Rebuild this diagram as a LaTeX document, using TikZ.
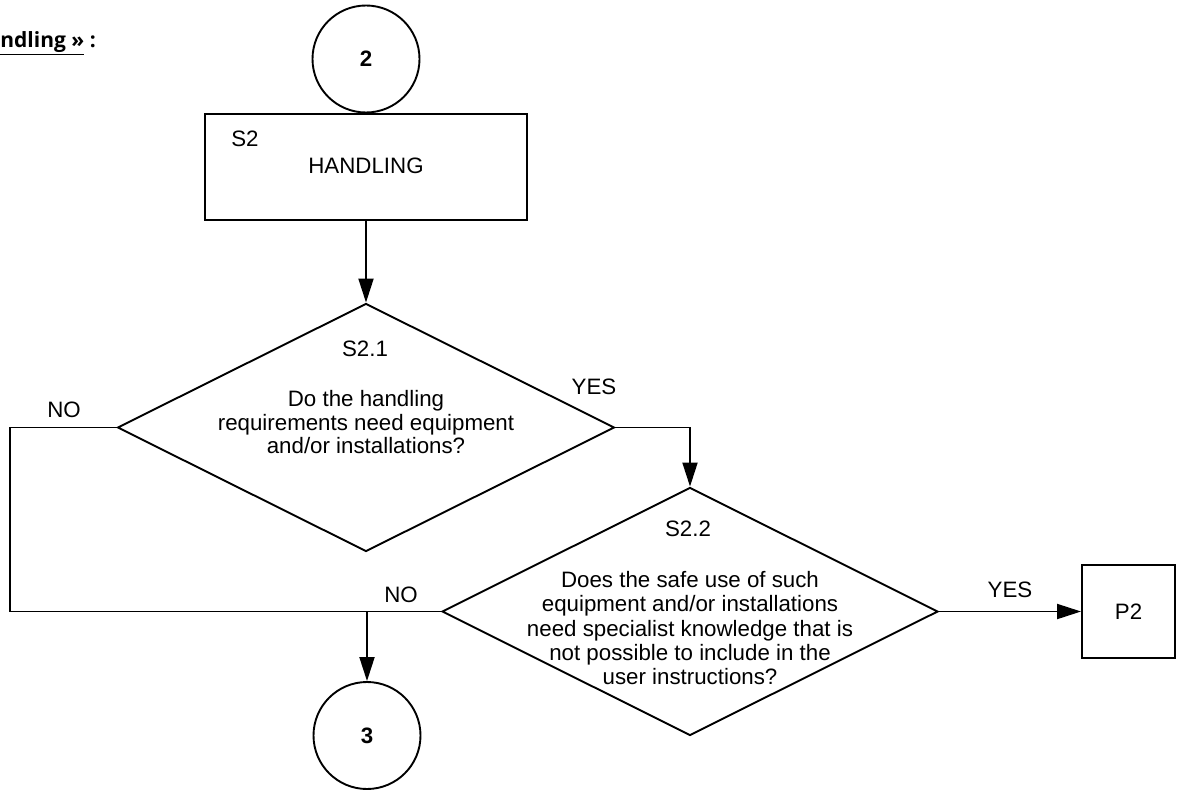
\documentclass[tikz,border=0pt]{standalone}
\usepackage{fontspec}
\setmainfont{Liberation Sans}
\newfontfamily\hdrfont{Open Sans}
\usetikzlibrary{shapes.geometric, arrows.meta, positioning, calc}

\begin{document}
\begin{tikzpicture}[
  x=1pt, y=-1pt,
  every node/.style={font=\fontsize{22.3}{23.5}\selectfont, inner sep=0pt},
  dec/.style={draw, shape=diamond, line width=1.9pt, minimum width=497pt, minimum height=248pt},
  conn/.style={draw, circle, line width=1.9pt, minimum size=107pt, font=\fontsize{22.3}{23.5}\selectfont\bfseries},
  pbox/.style={draw, line width=1.9pt},
  qtext/.style={align=center},
  wire/.style={line width=1.9pt},
  arr/.style={wire, -{Triangle[length=24pt, width=15pt]}}
]
  \useasboundingbox (0,0) rectangle (1182,789);

  \node[anchor=base east, font=\hdrfont\fontsize{21}{24}\selectfont\bfseries] (hdr) at (96,48) {\underline{ndling »} :};

  \node[conn] (c2) at (366,59) {2};
  \node[pbox, minimum width=322pt, minimum height=106pt] (s2) at (366,167) {};
  \node (s2id) at (245,138.5) {S2};
  \node (s2name) at (366,166) {HANDLING};

  \node[dec] (d1) at (366,427.5) {};
  \node (d1id) at (365,349) {S2.1};
  \node[qtext] (d1q) at (366,422.5) {Do the handling\\requirements need equipment\\and/or installations?};

  \node[dec, minimum width=496pt] (d2) at (690,611.5) {};
  \node (d2id) at (688,529) {S2.2};
  \node[qtext, font=\fontsize{22.3}{24.2}\selectfont] (d2q) at (690,628.2) {Does the safe use of such\\equipment and/or installations\\need specialist knowledge that is\\not possible to include in the\\user instructions?};

  \node[pbox, minimum size=93pt] (p2) at (1128.5,611.5) {P2};
  \node[conn] (c3) at (367,735.5) {3};

  \node (no1) at (64,409.5) {NO};
  \node (yes1) at (594,387) {YES};
  \node (no2) at (401,595) {NO};
  \node (yes2) at (1010,589.5) {YES};

  \coordinate (lcorner) at (10,427.5);
  \coordinate (join) at (c3.north |- d2.west);

  \draw[arr] (s2.south) -- (d1.north);
  \draw[wire] (d1.west) -- (lcorner) |- (d2.west);
  \draw[arr] (d1.east) -| (d2.north);
  \draw[arr] (d2.east) -- (p2.west);
  \draw[arr] (join) -- (c3.north);
\end{tikzpicture}
\end{document}
